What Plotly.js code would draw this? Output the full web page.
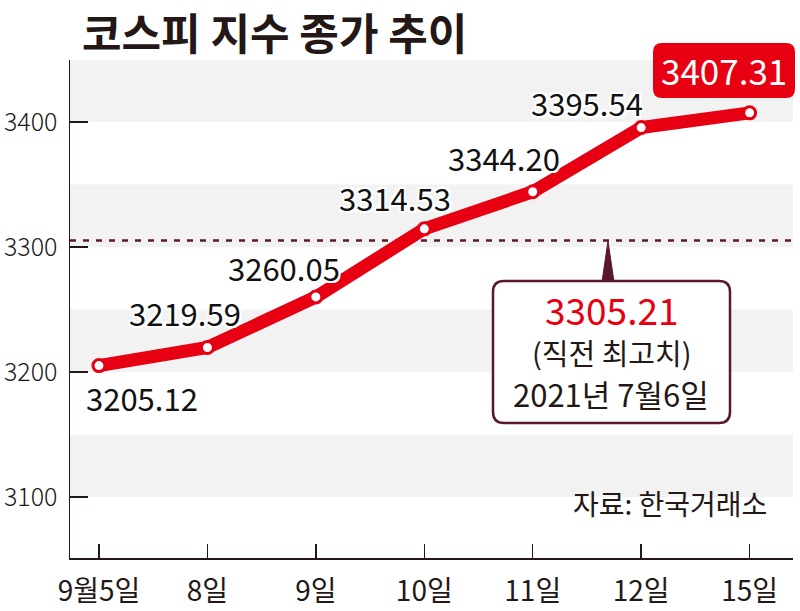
<!DOCTYPE html>
<html>
<head>
<meta charset="utf-8">
<script src="https://cdn.plot.ly/plotly-3.0.1.min.js"></script>
<style>
html,body{margin:0;padding:0;background:#fff;}
#chart{width:800px;height:611px;}
</style>
</head>
<body>
<div id="chart"></div>
<script>
// ---- data ----
const categories = ['9월5일', '8일', '9일', '10일', '11일', '12일', '15일'];
const kospiClose = [3205.12, 3219.59, 3260.05, 3314.53, 3344.20, 3395.54, 3407.31];
const yTickValues = [3100, 3200, 3300, 3400];
const prevHigh = 3305.21;
const prevHighLabel = ['3305.21', '(직전 최고치)', '2021년 7월6일'];
const titleText = '코스피 지수 종가 추이';
const sourceText = '자료: 한국거래소';

// ---- layout constants ----
const W = 800, H = 611;
const M = {l: 70, r: 7, t: 60, b: 53};
const PW = W - M.l - M.r, PH = H - M.t - M.b;
const FONT = '"Noto Sans CJK KR", "Noto Sans", sans-serif';
const DARK = '#231815';
const RED = '#e60012';
const MAROON = '#5a1830';

// pixel -> paper helpers for decorations
const px = v => (v - M.l) / PW;
const py = v => (H - M.b - v) / PH;
function roundRect(x0, y0, x1, y1, r) {
  const p = (x, y) => px(x).toFixed(5) + ',' + py(y).toFixed(5);
  return 'M' + p(x0 + r, y0) + ' L' + p(x1 - r, y0) + ' Q' + p(x1, y0) + ' ' + p(x1, y0 + r) +
    ' L' + p(x1, y1 - r) + ' Q' + p(x1, y1) + ' ' + p(x1 - r, y1) +
    ' L' + p(x0 + r, y1) + ' Q' + p(x0, y1) + ' ' + p(x0, y1 - r) +
    ' L' + p(x0, y0 + r) + ' Q' + p(x0, y0) + ' ' + p(x0 + r, y0) + ' Z';
}

const halo = '2px 2px 0 #fff, -2px -2px 0 #fff, 2px -2px 0 #fff, -2px 2px 0 #fff, 0 2px 0 #fff, 2px 0 0 #fff, 0 -2px 0 #fff, -2px 0 0 #fff';

// label offsets (pixels) for each point
const labelOffsets = [[43, -32], [-22, 35], [-32, 29], [-29, 31], [-29, 34], [-54, 25], [-26, 43]];

const trace = {
  x: categories,
  y: kospiClose,
  type: 'scatter',
  mode: 'lines+markers',
  line: {color: RED, width: 13},
  marker: {size: 12, color: '#fff', line: {color: RED, width: 3}},
  hoverinfo: 'skip',
  cliponaxis: false
};

const shapes = [];
// alternating bands
yTickValues.forEach(v => {
  shapes.push({type: 'rect', xref: 'paper', yref: 'y', x0: 0, x1: 1, y0: v, y1: v + 50,
    fillcolor: '#f2f2f2', line: {width: 0}, layer: 'below'});
});
// previous high dashed line
shapes.push({type: 'line', xref: 'paper', yref: 'y', x0: 0, x1: 1, y0: prevHigh, y1: prevHigh,
  line: {color: MAROON, width: 2.5, dash: '6px,7px'}, layer: 'below'});
// callout arrow + box
shapes.push({type: 'path', xref: 'paper', yref: 'paper',
  path: 'M' + px(608) + ',' + py(241) + ' L' + px(614) + ',' + py(282) + ' L' + px(602) + ',' + py(282) + ' Z',
  fillcolor: MAROON, line: {color: MAROON, width: 1}});
shapes.push({type: 'path', xref: 'paper', yref: 'paper',
  path: roundRect(493, 281, 730, 423, 11), fillcolor: '#fff', line: {color: MAROON, width: 2.5}});
// red label box for last value
shapes.push({type: 'path', xref: 'paper', yref: 'paper',
  path: roundRect(653, 43, 795, 98, 9), fillcolor: RED, line: {width: 0}});

const annotations = kospiClose.map((v, i) => {
  const last = i === kospiClose.length - 1;
  return {
    x: categories[i], y: v, xref: 'x', yref: 'y',
    text: v.toFixed(2), showarrow: false,
    xshift: labelOffsets[i][0], yshift: labelOffsets[i][1],
    font: last ? {family: FONT, size: 35, color: '#fff'} : {family: FONT, size: 31, color: '#111', shadow: halo},
    xanchor: 'center', yanchor: 'middle'
  };
});
annotations.push({xref: 'paper', yref: 'paper', x: px(612), y: py(309), text: prevHighLabel[0], showarrow: false,
  font: {family: FONT, size: 37, color: RED}, xanchor: 'center', yanchor: 'middle'});
annotations.push({xref: 'paper', yref: 'paper', x: px(612), y: py(352), text: prevHighLabel[1], showarrow: false,
  font: {family: FONT, size: 29, color: DARK}, xanchor: 'center', yanchor: 'middle'});
annotations.push({xref: 'paper', yref: 'paper', x: px(611), y: py(393), text: prevHighLabel[2], showarrow: false,
  font: {family: FONT, size: 31, color: DARK}, xanchor: 'center', yanchor: 'middle'});
annotations.push({xref: 'paper', yref: 'paper', x: px(769), y: py(503), text: sourceText, showarrow: false,
  font: {family: FONT, size: 28, color: DARK}, xanchor: 'right', yanchor: 'middle'});
// title drawn as annotation for precise placement
annotations.push({xref: 'paper', yref: 'paper', x: px(80), y: py(31), text: '<b>' + titleText + '</b>', showarrow: false,
  font: {family: FONT, size: 43, color: DARK}, xanchor: 'left', yanchor: 'middle'});

const layout = {
  width: W, height: H,
  margin: M,
  paper_bgcolor: '#fff', plot_bgcolor: '#fff',
  showlegend: false,
  xaxis: {type: 'category', range: [-0.267, 6.4], showgrid: false, zeroline: false,
    showline: true, linecolor: DARK, linewidth: 1.5,
    ticks: 'inside', ticklen: 14, tickwidth: 1.5, tickcolor: DARK,
    tickfont: {family: FONT, size: 28, color: DARK}, ticklabelstandoff: 8, fixedrange: true},
  yaxis: {range: [3051.2, 3449.6], tickvals: yTickValues, showgrid: false, zeroline: false,
    showline: true, linecolor: DARK, linewidth: 1.5,
    ticks: 'inside', ticklen: 18, tickwidth: 1.5, tickcolor: DARK,
    tickfont: {family: FONT, size: 25, weight: 300, color: DARK}, ticklabelstandoff: 6, fixedrange: true},
  shapes: shapes,
  annotations: annotations
};

Plotly.newPlot('chart', [trace], layout, {displayModeBar: false, staticPlot: true});
</script>
</body>
</html>
